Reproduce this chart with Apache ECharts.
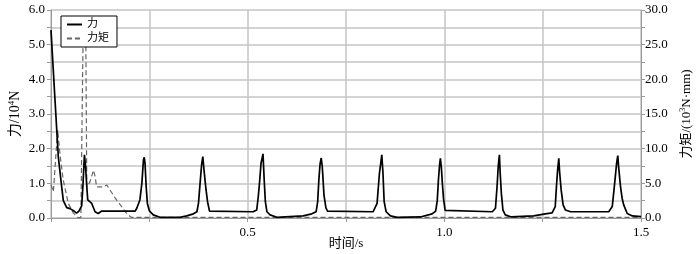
<!DOCTYPE html>
<html>
<head>
<meta charset="utf-8">
<script src="https://cdn.jsdelivr.net/npm/echarts@6/dist/echarts.min.js"></script>
<style>
html,body{margin:0;padding:0;background:#fff;}
#c{width:700px;height:254px;}
</style>
</head>
<body>
<div id="c"></div>
<script>
// time (s), force (10^4 N)
var forceData = [
  [0, 5.42], [0.0102, 3.4], [0.0186, 1.76], [0.0272, 0.9], [0.0313, 0.5], [0.040, 0.3],
  [0.048, 0.27], [0.053, 0.3], [0.0585, 0.2], [0.065, 0.14], [0.071, 0.2], [0.078, 0.35],
  [0.081, 0.9], [0.085, 1.82], [0.0878, 1.5], [0.091, 0.9], [0.0934, 0.52], [0.1036, 0.42],
  [0.112, 0.18], [0.120, 0.13], [0.129, 0.2],
  [0.214, 0.2], [0.218, 0.28], [0.226, 0.52], [0.231, 1.0], [0.235, 1.67], [0.237, 1.75],
  [0.239, 1.58], [0.242, 0.9], [0.245, 0.42], [0.250, 0.21], [0.260, 0.09], [0.277, 0.02],
  [0.328, 0.02], [0.345, 0.06], [0.362, 0.12], [0.371, 0.18],
  [0.375, 0.43], [0.379, 1.0], [0.383, 1.55], [0.386, 1.77], [0.389, 1.38], [0.394, 0.83],
  [0.398, 0.47], [0.403, 0.2], [0.407, 0.18],
  [0.514, 0.18], [0.519, 0.21], [0.523, 0.23], [0.527, 0.62], [0.530, 1.0], [0.534, 1.58],
  [0.539, 1.85], [0.542, 1.1], [0.545, 0.47], [0.549, 0.18], [0.557, 0.09], [0.574, 0.02],
  [0.641, 0.06], [0.663, 0.12], [0.674, 0.18],
  [0.678, 0.47], [0.681, 1.1], [0.684, 1.55], [0.687, 1.73], [0.6895, 1.5], [0.691, 1.24],
  [0.694, 0.66], [0.699, 0.29], [0.703, 0.2], [0.707, 0.18],
  [0.819, 0.18], [0.829, 0.42], [0.835, 1.29], [0.841, 1.82], [0.844, 1.3], [0.847, 0.47],
  [0.852, 0.18], [0.863, 0.06], [0.880, 0.02], [0.939, 0.03], [0.969, 0.12], [0.978, 0.2],
  [0.982, 0.5], [0.985, 1.1], [0.988, 1.55], [0.990, 1.72], [0.9925, 1.45], [0.995, 1.0],
  [0.998, 0.55], [1.002, 0.22], [1.006, 0.18],
  [1.122, 0.18], [1.130, 0.28], [1.134, 0.9], [1.137, 1.48], [1.140, 1.82], [1.142, 1.29],
  [1.145, 0.71], [1.149, 0.23], [1.155, 0.09], [1.170, 0.03], [1.227, 0.06], [1.257, 0.12],
  [1.274, 0.15], [1.282, 0.33], [1.285, 0.9], [1.288, 1.38], [1.291, 1.72], [1.293, 1.34],
  [1.297, 0.81], [1.302, 0.38], [1.308, 0.23], [1.321, 0.18],
  [1.418, 0.18], [1.427, 0.33], [1.433, 1.0], [1.438, 1.58], [1.441, 1.8], [1.443, 1.48],
  [1.448, 0.9], [1.452, 0.57], [1.456, 0.38], [1.465, 0.13], [1.478, 0.06], [1.5, 0.04]
];
// time (s), torque (10^3 N·mm)
var torqueData = [
  [0, 4.8], [0.006, 3.8], [0.017, 12.7], [0.023, 9.1], [0.031, 5.5], [0.044, 2.1],
  [0.057, 0.7], [0.069, 0.05], [0.076, 0.1], [0.0815, 25.8], [0.0885, 25.8], [0.091, 4.5],
  [0.099, 5.2], [0.108, 6.9], [0.112, 6.0], [0.116, 4.5], [0.133, 4.5], [0.142, 4.75],
  [0.163, 2.9], [0.193, 0.6], [0.204, 0.1], [1.5, 0.1]
];
var seriesNames = ['力', '力矩'];
var xTickLabels = ['0.5', '1.0', '1.5'];

var serif = 'Liberation Serif, "Noto Sans CJK SC", serif';
var gridColor = '#c4c4c4';
var axisColor = '#9a9a9a';

var chart = echarts.init(document.getElementById('c'), null, {renderer: 'canvas'});
chart.setOption({
  animation: false,
  backgroundColor: '#fff',
  grid: {left: 51, right: 59, top: 10, bottom: 36, containLabel: false, outerBoundsMode: 'none'},
  legend: {
    orient: 'vertical',
    left: 61, top: 16,
    padding: [3, 8, 3, 5],
    itemWidth: 15, itemHeight: 8, itemGap: 3,
    borderColor: '#000', borderWidth: 1, borderRadius: 0,
    backgroundColor: '#fff',
    itemStyle: {opacity: 0},
    textStyle: {fontFamily: serif, fontSize: 11, color: '#000'},
    data: seriesNames
  },
  xAxis: {
    type: 'value', min: 0, max: 1.5, interval: 0.25,
    name: '时间/s', nameLocation: 'middle', nameGap: 19, nameMoveOverlap: false,
    nameTextStyle: {fontFamily: serif, fontSize: 13, color: '#000'},
    axisLine: {show: true, lineStyle: {color: axisColor, width: 1}},
    axisTick: {show: true, length: 4, lineStyle: {color: axisColor}},
    axisLabel: {
      fontFamily: serif, fontSize: 13, color: '#000', margin: 8,
      formatter: function (v) {
        var s = v.toFixed(1);
        return xTickLabels.indexOf(s) >= 0 && Math.abs(v * 2 - Math.round(v * 2)) < 1e-9 ? s : '';
      }
    },
    splitLine: {show: true, lineStyle: {color: gridColor, width: 1.5}}
  },
  yAxis: [{
    type: 'value', min: 0, max: 6, interval: 0.5, position: 'left',
    name: '力/10{sup|4}N', nameLocation: 'middle', nameGap: 27, nameRotate: 90, nameMoveOverlap: false,
    nameTextStyle: {fontFamily: serif, fontSize: 14, color: '#000',
      rich: {sup: {fontFamily: serif, fontSize: 9, color: '#000', verticalAlign: 'top', padding: [0, 0, 8, 0]}}},
    axisLine: {show: true, lineStyle: {color: axisColor, width: 1}},
    axisTick: {show: true, length: 4, lineStyle: {color: axisColor}},
    axisLabel: {
      fontFamily: serif, fontSize: 13, color: '#000', margin: 6,
      formatter: function (v) { return Math.abs(v - Math.round(v)) < 1e-9 ? v.toFixed(1) : ''; }
    },
    splitLine: {show: true, lineStyle: {color: gridColor, width: 1.5}}
  }, {
    type: 'value', min: 0, max: 30, interval: 2.5, position: 'right',
    name: '力矩/(10{sup|3}N·mm)', nameLocation: 'middle', nameGap: 38, nameRotate: 90, nameMoveOverlap: false,
    nameTextStyle: {fontFamily: serif, fontSize: 13, color: '#000',
      rich: {sup: {fontFamily: serif, fontSize: 8, color: '#000', verticalAlign: 'top', padding: [0, 0, 8, 0]}}},
    axisLine: {show: true, lineStyle: {color: axisColor, width: 1}},
    axisTick: {show: true, length: 4, lineStyle: {color: axisColor}},
    axisLabel: {
      fontFamily: serif, fontSize: 13, color: '#000', margin: 4,
      formatter: function (v) { return Math.abs(v / 5 - Math.round(v / 5)) < 1e-9 ? v.toFixed(1) : ''; }
    },
    splitLine: {show: false}
  }],
  series: [{
    name: seriesNames[0], type: 'line', yAxisIndex: 0, data: forceData,
    symbol: 'none', smooth: false, z: 3,
    lineStyle: {color: '#000', width: 1.7, type: 'solid'},
    itemStyle: {color: '#000'}
  }, {
    name: seriesNames[1], type: 'line', yAxisIndex: 1, data: torqueData,
    symbol: 'none', smooth: false, z: 2,
    lineStyle: {color: '#666', width: 1.2, type: [5, 3]},
    itemStyle: {color: '#666'}
  }]
});
</script>
</body>
</html>
